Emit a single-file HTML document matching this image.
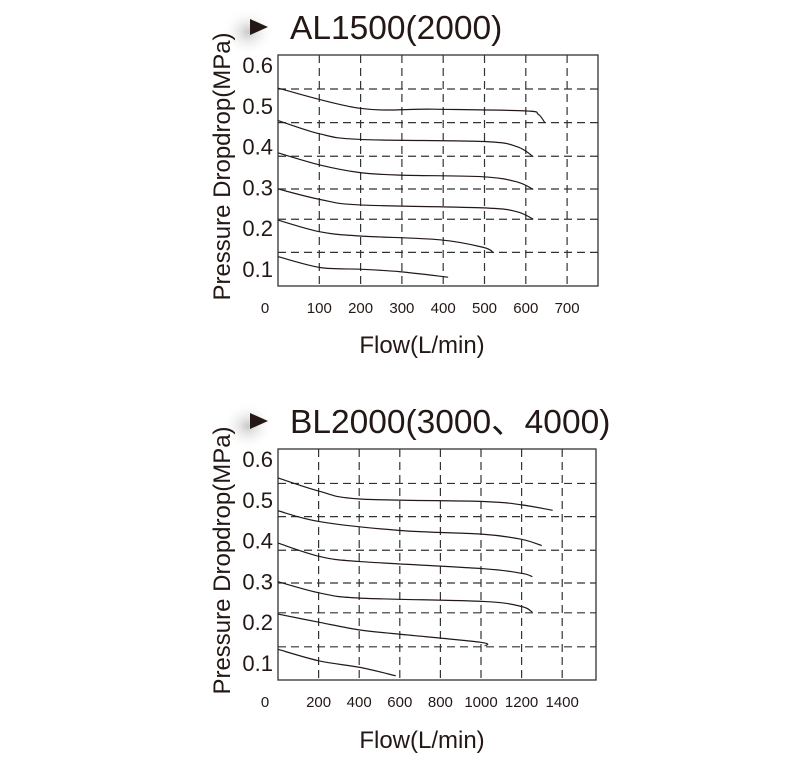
<!DOCTYPE html>
<html><head><meta charset="utf-8">
<style>
body{margin:0;background:#fff;width:800px;height:760px;overflow:hidden;font-family:"Liberation Sans","Noto Sans CJK SC",sans-serif;}
svg{display:block}
</style></head>
<body>
<svg id="c" width="800" height="760" viewBox="0 0 800 760">
<defs><radialGradient id="sh"><stop offset="0" stop-color="#bbb" stop-opacity="0.8"/><stop offset="1" stop-color="#fff" stop-opacity="0"/></radialGradient></defs>
</svg>
<script>
// ---- Chart 1 data (AL1500(2000)) ----
const c1XTicks = ["0","100","200","300","400","500","600","700"];
const c1YTicks = ["0.6","0.5","0.4","0.3","0.2","0.1"];
const c1Grid = [0.519,0.439,0.359,0.281,0.209,0.130];
const c1Flow = [
 [0,199,376,598,630,646],
 [0,102,199,497,578,618],
 [0,102,199,296,497,578,618],
 [0,102,199,497,578,618],
 [0,102,199,392,497,521],
 [0,102,199,296,412]
];
const c1Press = [
 [0.521,0.473,0.471,0.467,0.459,0.439],
 [0.444,0.412,0.399,0.394,0.382,0.358],
 [0.367,0.338,0.320,0.314,0.310,0.298,0.280],
 [0.281,0.256,0.243,0.236,0.227,0.209],
 [0.207,0.179,0.169,0.160,0.142,0.130],
 [0.120,0.094,0.090,0.084,0.071]
];
// ---- Chart 2 data (BL2000(3000、4000)) ----
const c2XTicks = ["0","200","400","600","800","1000","1200","1400"];
const c2YTicks = ["0.6","0.5","0.4","0.3","0.2","0.1"];
const c2Grid = [0.518,0.439,0.359,0.281,0.210,0.129];
const c2Flow = [
 [0,207,404,1011,1200,1353],
 [0,207,601,1011,1200,1299],
 [0,207,404,1011,1200,1253],
 [0,207,404,1011,1200,1253],
 [0,207,404,601,995,1020],
 [0,207,404,580]
];
const c2Press = [
 [0.531,0.499,0.481,0.475,0.467,0.454],
 [0.453,0.427,0.406,0.397,0.385,0.370],
 [0.376,0.344,0.332,0.315,0.304,0.296],
 [0.284,0.257,0.245,0.237,0.225,0.211],
 [0.207,0.187,0.169,0.159,0.140,0.131],
 [0.123,0.095,0.080,0.060]
];

const NS="http://www.w3.org/2000/svg";
const svg=document.getElementById('c');
function mk(tag,attrs,parent){const e=document.createElementNS(NS,tag);for(const k in attrs)e.setAttribute(k,attrs[k]);(parent||svg).appendChild(e);return e;}

function chart(cfg){
 const g=mk('g',{});
 
 
 const L=cfg.left,R=cfg.right,T=cfg.top,B=cfg.bottom;
 const xS=v=>L+v/cfg.xStep*cfg.xPx;
 const yS=v=>T+(0.6-v)*(B-T)/0.55;
 const sh=mk('ellipse',{cx:248,cy:cfg.titleY-6,rx:26,ry:24,fill:'url(#sh)'},g);
 
 
 const tri=mk('polygon',{points:`250,${cfg.titleY-19} 268,${cfg.titleY-11} 250,${cfg.titleY-3}`,fill:'#231815'},g);
 
 
 const tt=mk('text',{x:290,y:cfg.titleY+1,'font-size':33.5,fill:'#231815'},g);
 tt.textContent=cfg.title;
 
 
 for(let i=1;i<cfg.xTicks.length;i++){
  const x=xS(i*cfg.xStep);
  const l=mk('line',{x1:x,x2:x,y1:T,y2:B,stroke:'#333','stroke-width':1.2,'stroke-dasharray':'8,5'},g);
  
  
 }
 cfg.grid.forEach(v=>{
  const y=yS(v);
  const l=mk('line',{x1:L,x2:R,y1:y,y2:y,stroke:'#333','stroke-width':1.2,'stroke-dasharray':'8,5'},g);
  
  
 });
 const box=mk('rect',{x:L,y:T,width:R-L,height:B-T,fill:'none',stroke:'#333','stroke-width':1.3},g);
 
 
 cfg.xTicks.forEach((t,i)=>{
  const x=i===0?265:xS(i*cfg.xStep);
  const e=mk('text',{x:x,y:B+27,'font-size':15,'text-anchor':'middle',fill:'#231815'},g);
  e.textContent=t;
  
  
 });
 cfg.yTicks.forEach((t,i)=>{
  const e=mk('text',{x:273,y:T+18+i*40.8,'font-size':22,'text-anchor':'end',fill:'#231815'},g);
  e.textContent=t;
  
  
 });
 const yt=mk('text',{x:0,y:0,'font-size':24,'text-anchor':'middle',fill:'#231815',transform:`translate(230,${(T+B)/2-4}) rotate(-90)`},g);
 yt.textContent='Pressure Dropdrop(MPa)';
 
 
 const xt=mk('text',{x:422,y:cfg.xTitleY,'font-size':24,'text-anchor':'middle',fill:'#231815'},g);
 xt.textContent='Flow(L/min)';
 
 
 cfg.flow.forEach((fs,k)=>{
  const ps=cfg.press[k];
  const pts=fs.map((f,i)=>[xS(f),yS(ps[i])]);
  let d=`M${pts[0][0]},${pts[0][1]}`;
  for(let i=0;i<pts.length-1;i++){
   const p0=pts[i-1]||pts[i],p1=pts[i],p2=pts[i+1],p3=pts[i+2]||p2;
   const c1=[p1[0]+(p2[0]-p0[0])/6,p1[1]+(p2[1]-p0[1])/6];
   const c2=[p2[0]-(p3[0]-p1[0])/6,p2[1]-(p3[1]-p1[1])/6];
   d+=` C${c1[0]},${c1[1]} ${c2[0]},${c2[1]} ${p2[0]},${p2[1]}`;
  }
  const p=mk('path',{d:d,fill:'none',stroke:'#231815','stroke-width':1.2},g);
  
  
 });
}
chart({name:'chart-al1500',title:'AL1500(2000)',titleY:38,left:278,right:598,top:55,bottom:286,xStep:100,xPx:41.3,
 grid:c1Grid,xTicks:c1XTicks,yTicks:c1YTicks,flow:c1Flow,press:c1Press,xTitleY:353});
chart({name:'chart-bl2000',title:'BL2000(3000、4000)',titleY:432,left:278,right:596,top:449,bottom:680,xStep:200,xPx:40.6,
 grid:c2Grid,xTicks:c2XTicks,yTicks:c2YTicks,flow:c2Flow,press:c2Press,xTitleY:748});
</script>
</body></html>
